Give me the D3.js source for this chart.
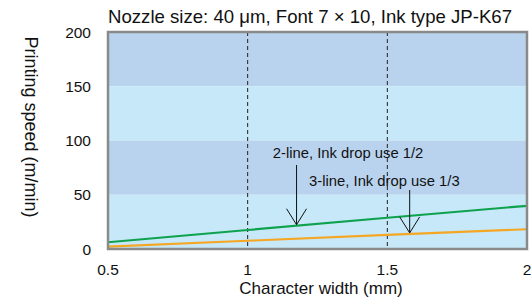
<!DOCTYPE html>
<html>
<head>
<meta charset="utf-8">
<script src="https://cdnjs.cloudflare.com/ajax/libs/d3/7.8.5/d3.min.js"></script>
<style>
  body { margin: 0; background: #fff; }
  text { font-family: "Liberation Sans", Arial, Helvetica, sans-serif; fill: #111; }
</style>
</head>
<body>
<div id="canvas"></div>
<script>
var width = 531;
var height = 302;
var margin = {top: 32, right: 4, bottom: 53, left: 108};

// data
var widths = [0.5, 1, 1.5, 2];              // character width (mm)
var speed2line = [6.2, 17.5, 28.8, 39.8];    // 2-line, ink drop use 1/2
var speed3line = [2.1, 7.6, 13.1, 18.2];     // 3-line, ink drop use 1/3
var xTicks = [0.5, 1, 1.5, 2];
var yTicks = [0, 50, 100, 150, 200];
var bands = [[150, 200], [100, 150], [50, 100], [0, 50]];
var dashedAt = [1, 1.5];
var title = "Nozzle size: 40 \u03bcm, Font 7 \u00d7 10, Ink type JP-K67";
var notes = [
  {label: "2-line, Ink drop use 1/2", at: 1.175, series: speed2line, textX: 1.09, textY: 158, from: 165},
  {label: "3-line, Ink drop use 1/3", at: 1.58, series: speed3line, textX: 1.22, textY: 186, from: 190}
];

var svg = d3.select('#canvas')
  .append("svg")
  .attr("width", width)
  .attr("height", height);

var x = d3.scaleLinear().domain([0.5, 2]).range([margin.left, width - margin.right]);
var y = d3.scaleLinear().domain([0, 200]).range([height - margin.bottom, margin.top]);

// background bands
svg.selectAll("rect.band")
  .data(bands)
  .enter()
  .append("rect")
  .attr("class", "band")
  .attr("x", x(0.5))
  .attr("width", x(2) - x(0.5))
  .attr("y", d => y(d[1]))
  .attr("height", d => y(d[0]) - y(d[1]))
  .attr("fill", (d, i) => i % 2 == 0 ? "#b9d3ee" : "#c6e8f8");

// dashed verticals
svg.selectAll("line.dash")
  .data(dashedAt)
  .enter()
  .append("line")
  .attr("x1", d => x(d)).attr("x2", d => x(d))
  .attr("y1", y(200)).attr("y2", y(0))
  .style("stroke", "#222")
  .style("stroke-width", 1)
  .style("stroke-dasharray", "4,3");

// series lines
var line = d3.line()
  .x((d, i) => x(widths[i]))
  .y(d => y(d));

svg.append("path")
  .attr("d", line(speed3line))
  .attr("fill", "none")
  .style("stroke", "#f5a623")
  .style("stroke-width", 2.2);

svg.append("path")
  .attr("d", line(speed2line))
  .attr("fill", "none")
  .style("stroke", "#0ea24e")
  .style("stroke-width", 2.2);

// frame
svg.append("rect")
  .attr("x", x(0.5))
  .attr("y", y(200))
  .attr("width", x(2) - x(0.5))
  .attr("height", y(0) - y(200))
  .attr("fill", "none")
  .style("stroke", "#8a8a8a")
  .style("stroke-width", 2.5);

// axes (labels only)
svg.selectAll("text.ytick")
  .data(yTicks)
  .enter()
  .append("text")
  .attr("x", margin.left - 17)
  .attr("y", d => y(d) + 5.5)
  .attr("text-anchor", "end")
  .style("font-size", "15.5px")
  .text(d => d);

svg.selectAll("text.xtick")
  .data(xTicks)
  .enter()
  .append("text")
  .attr("x", d => x(d))
  .attr("y", y(0) + 26)
  .attr("text-anchor", "middle")
  .style("font-size", "15.5px")
  .text(d => d);

svg.append("text")
  .attr("x", 321)
  .attr("y", 294)
  .attr("text-anchor", "middle")
  .style("font-size", "17px")
  .text("Character width (mm)");

svg.append("text")
  .attr("transform", "translate(25," + 127 + ") rotate(90)")
  .attr("text-anchor", "middle")
  .style("font-size", "18px")
  .text("Printing speed (m/min)");

svg.append("text")
  .attr("x", 310)
  .attr("y", 23)
  .attr("text-anchor", "middle")
  .style("font-size", "18.6px")
  .text(title);

// annotations with open arrowheads
var interp = (s, v) => {
  var i = Math.min(Math.floor((v - 0.5) / 0.5), s.length - 2);
  var t = (v - widths[i]) / (widths[i + 1] - widths[i]);
  return s[i] + (s[i + 1] - s[i]) * t;
};

notes.forEach(n => {
  var ax = x(n.at);
  var tip = y(interp(n.series, n.at)) - 1;
  svg.append("text")
    .attr("x", x(n.textX))
    .attr("y", n.textY)
    .style("font-size", "14.8px")
    .text(n.label);
  svg.append("line")
    .attr("x1", ax).attr("x2", ax)
    .attr("y1", n.from).attr("y2", tip)
    .style("stroke", "#111").style("stroke-width", 1);
  svg.append("path")
    .attr("d", "M" + (ax - 10) + "," + (tip - 16) + "L" + ax + "," + tip + "L" + (ax + 10) + "," + (tip - 16))
    .attr("fill", "none")
    .style("stroke", "#111").style("stroke-width", 1);
});
</script>
</body>
</html>
